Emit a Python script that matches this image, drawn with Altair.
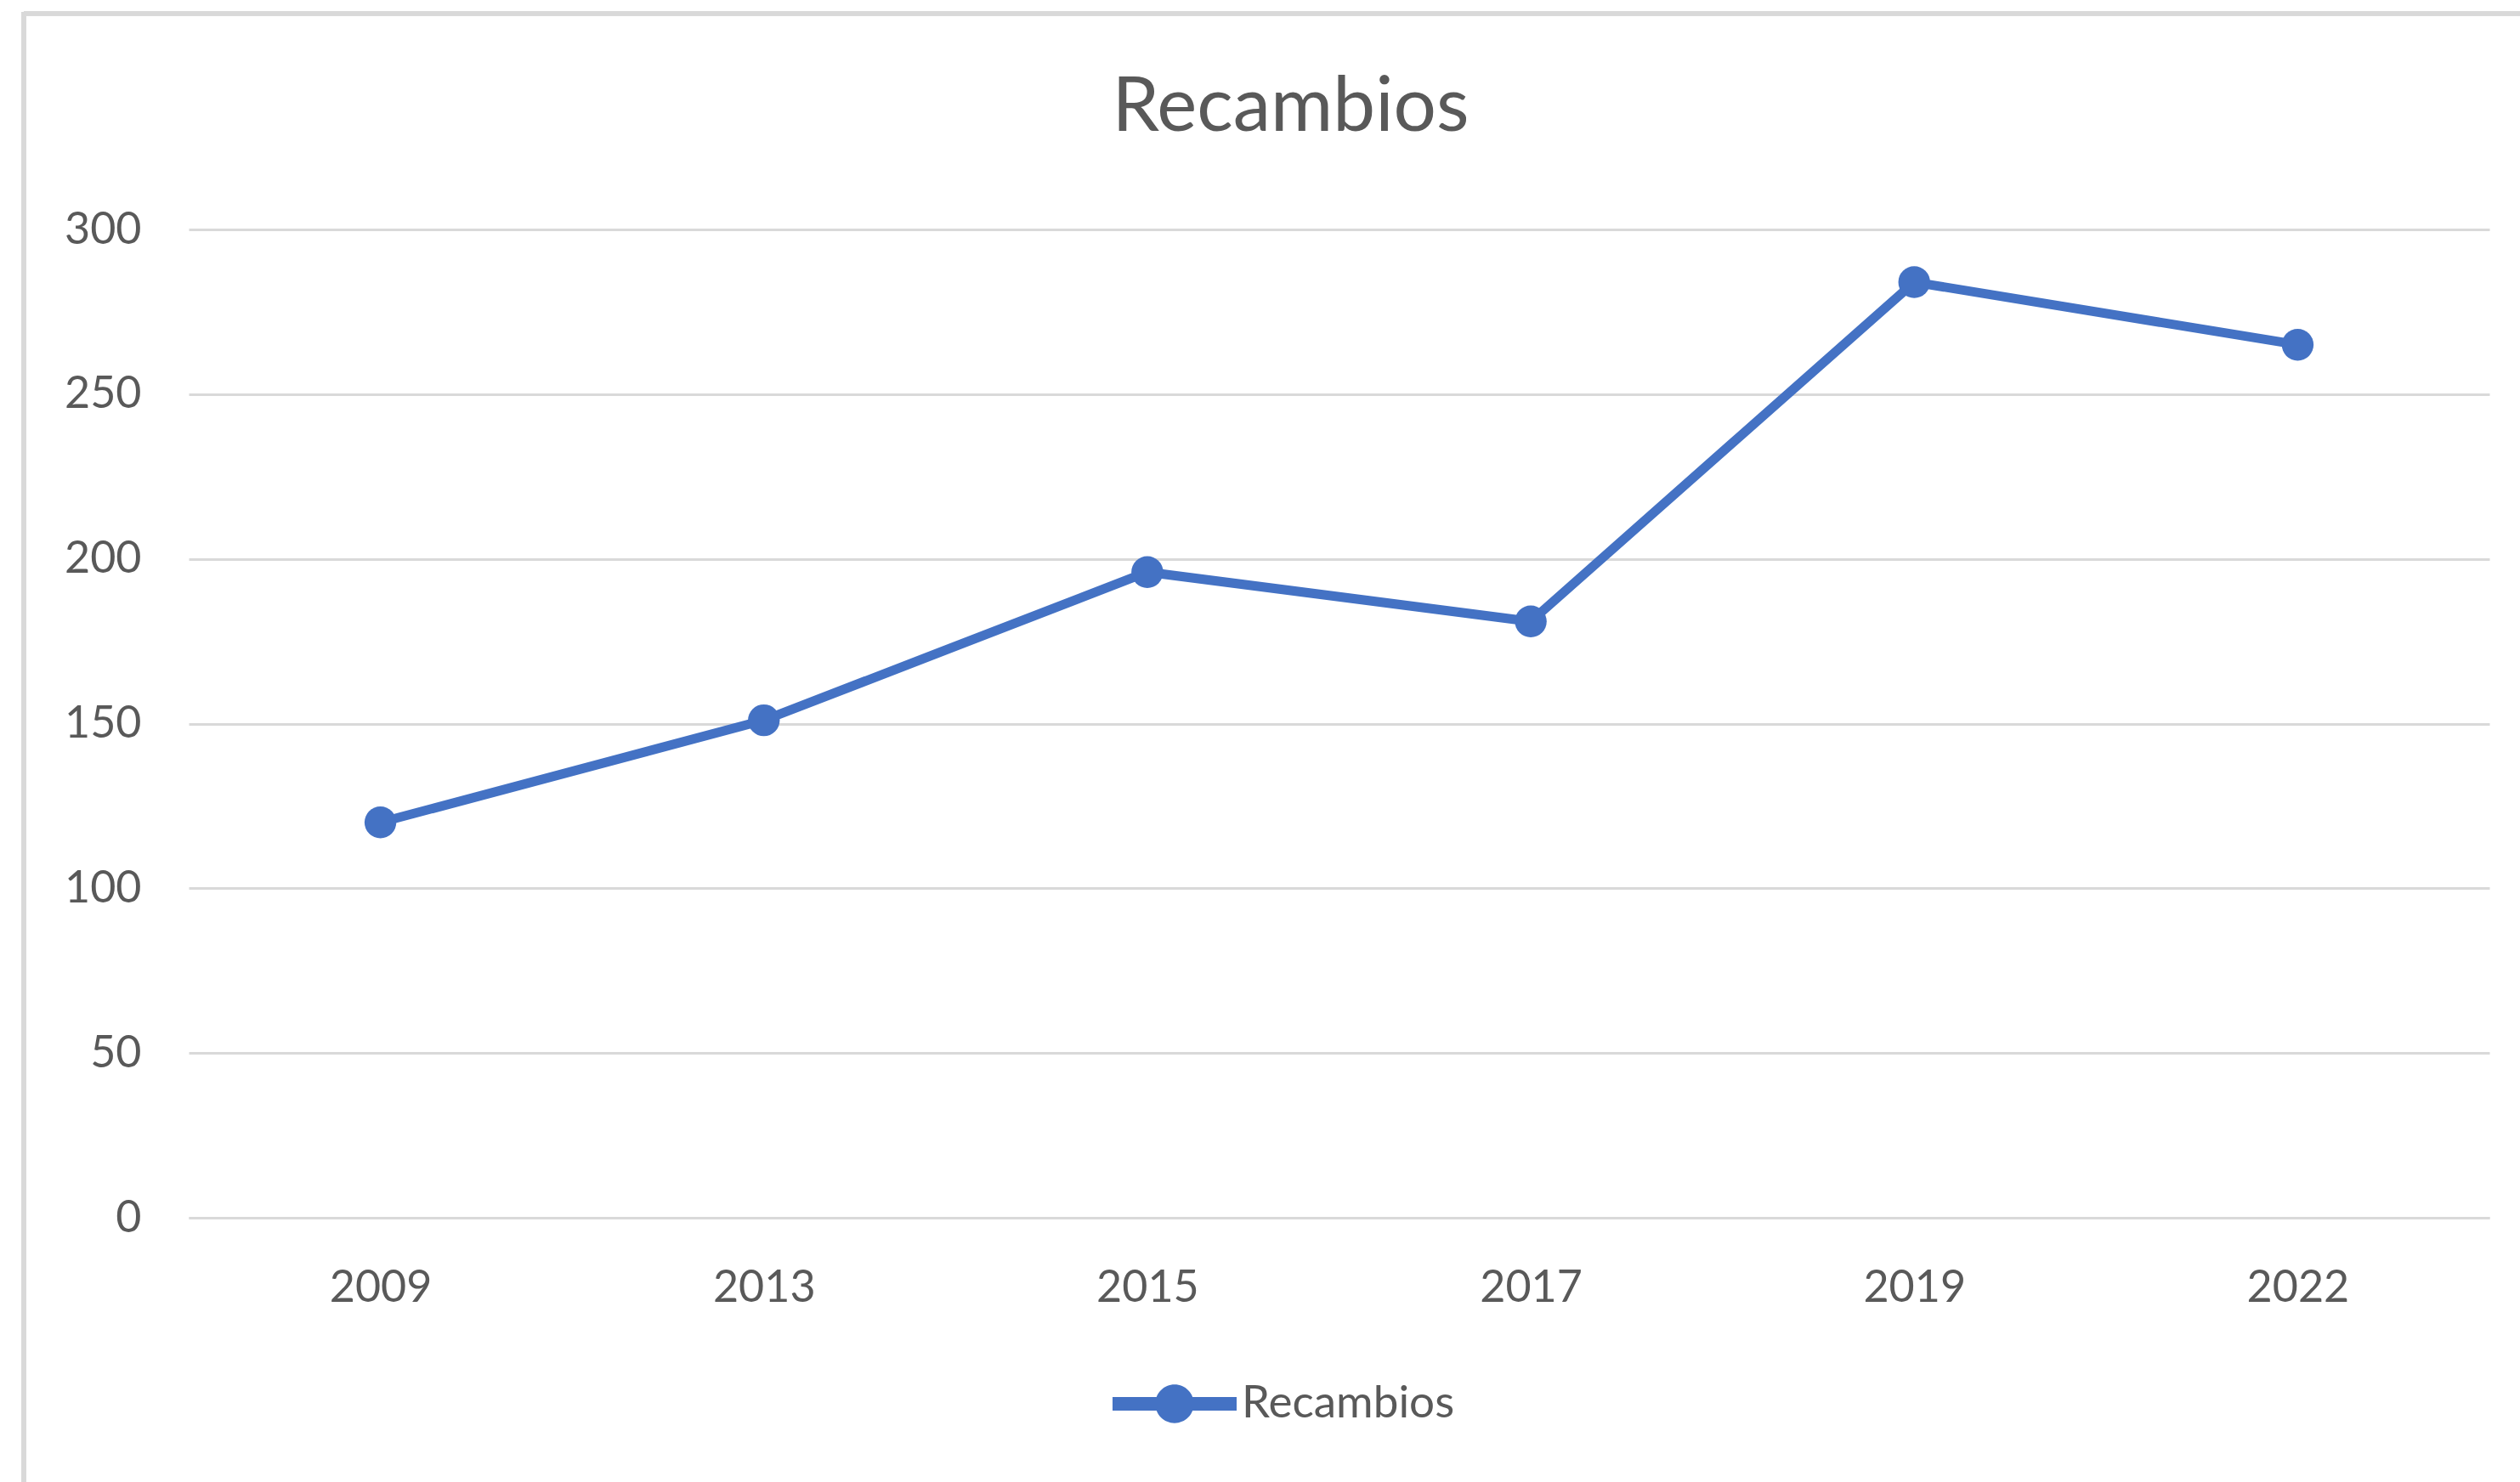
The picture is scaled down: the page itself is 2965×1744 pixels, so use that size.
import altair as alt
import pandas as pd

years = ["2009", "2013", "2015", "2017", "2019", "2022"]
values = [120, 151, 196, 181, 284, 265]
series = ["Recambios"] * len(years)
y_ticks = [0, 50, 100, 150, 200, 250, 300]

df = pd.DataFrame({"Año": years, "Valor": values, "Serie": series})

BLUE = "#4472C4"
GRID = "#d9d9d9"
TEXT = "#595959"
FONT = "Lato"

legend_path = ("M-1,-0.11 L1,-0.11 L1,0.11 L-1,0.11 Z "
               "M0.31,0 A0.31,0.31 0 1,1 -0.31,0 A0.31,0.31 0 1,1 0.31,0 Z")

x_enc = alt.X("Año:O", scale=alt.Scale(type="point", padding=0.5),
              axis=alt.Axis(title=None, labelAngle=0, ticks=False,
                            domainColor=GRID, domainWidth=3,
                            labelFontSize=52, labelFont=FONT, labelColor=TEXT,
                            labelPadding=57, grid=False))
y_enc = alt.Y("Valor:Q", scale=alt.Scale(domain=[0, 300]),
              axis=alt.Axis(title=None, values=y_ticks, ticks=False, domain=False,
                            gridColor=GRID, gridWidth=3,
                            labelFontSize=52, labelFont=FONT, labelColor=TEXT,
                            labelPadding=56))
color_enc = alt.Color("Serie:N", scale=alt.Scale(range=[BLUE]),
                      legend=alt.Legend(title=None, orient="none",
                                        legendX=1087, legendY=1309,
                                        symbolType=legend_path, symbolSize=21316,
                                        symbolStrokeWidth=0, symbolFillColor=BLUE,
                                        labelFontSize=53, labelFont=FONT,
                                        labelColor=TEXT, labelOffset=6, padding=0,
                                        labelLimit=0))

line = alt.Chart(df).mark_line(strokeWidth=11).encode(x=x_enc, y=y_enc, color=color_enc)
points = alt.Chart(df).mark_point(filled=True, size=1400, opacity=1).encode(
    x="Año:O", y="Valor:Q", color=alt.Color("Serie:N", legend=None))

border_top = alt.Chart(df).mark_rule(color=GRID, strokeWidth=5).encode(
    x=alt.value(-194), x2=alt.value(2760), y=alt.value(-254))
border_left = alt.Chart(df).mark_rule(color=GRID, strokeWidth=5).encode(
    x=alt.value(-194), y=alt.value(-256), y2=alt.value(1490))

chart = alt.layer(border_top, border_left, line, points).properties(
    width=2707, height=1163,
    title=alt.TitleParams("Recambios", fontSize=89, font=FONT, color=TEXT,
                          fontWeight="normal", anchor="middle", dx=-57, offset=-161),
    autosize=alt.AutoSizeParams(type="none"),
    padding={"left": 222, "top": 270, "right": 36, "bottom": 311},
    background="white",
).configure_view(strokeWidth=0, stroke="transparent")

chart.save("out.html", embed_options={"renderer": "svg", "actions": False})
